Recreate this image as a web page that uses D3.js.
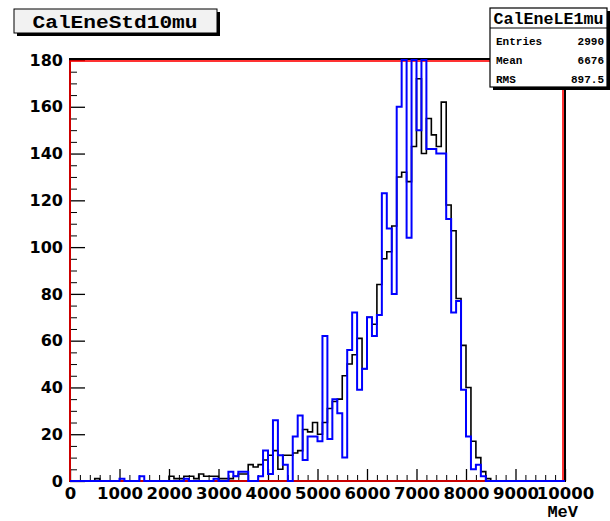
<!DOCTYPE html>
<html>
<head>
<meta charset="utf-8">
<script src="https://cdn.jsdelivr.net/npm/d3@7"></script>
<style>
  body { margin: 0; background: #fff; }
  svg { display: block; }
</style>
</head>
<body>
<div id="chart"></div>
<script>
// histogram contents, 100 bins of 100 MeV from 0 to 10000
var binLow = [
     0,  100,  200,  300,  400,  500,  600,  700,  800,  900,
  1000, 1100, 1200, 1300, 1400, 1500, 1600, 1700, 1800, 1900,
  2000, 2100, 2200, 2300, 2400, 2500, 2600, 2700, 2800, 2900,
  3000, 3100, 3200, 3300, 3400, 3500, 3600, 3700, 3800, 3900,
  4000, 4100, 4200, 4300, 4400, 4500, 4600, 4700, 4800, 4900,
  5000, 5100, 5200, 5300, 5400, 5500, 5600, 5700, 5800, 5900,
  6000, 6100, 6200, 6300, 6400, 6500, 6600, 6700, 6800, 6900,
  7000, 7100, 7200, 7300, 7400, 7500, 7600, 7700, 7800, 7900,
  8000, 8100, 8200, 8300, 8400, 8500, 8600, 8700, 8800, 8900,
  9000, 9100, 9200, 9300, 9400, 9500, 9600, 9700, 9800, 9900
];
var binWidth = 100;

// black histogram
var countsStd = [
   0,  0,  0,  0,  0,  1,  0,  0,  0,  0,
   0,  0,  0,  0,  0,  0,  0,  0,  0,  0,
   2,  1,  1,  2,  2,  1,  3,  2,  2,  2,
   1,  1,  1,  2,  3,  3,  7,  6,  7,  9,
  11, 13,  5, 11, 11, 12, 13, 22, 21, 25,
  20, 25, 31, 34, 35, 45, 50, 54, 61, 48,
  70, 67, 84, 95, 98,109,130,132,128,143,
 172,140,155,148,143,162,118,107, 78, 58,
  40, 17, 10,  4,  1,  0,  0,  0,  0,  0,
   0,  0,  0,  0,  0,  0,  0,  0,  0,  0
];

// blue histogram (CalEneLE1mu)
var countsLE = [
   0,  0,  0,  0,  0,  0,  0,  0,  0,  0,
   1,  0,  0,  0,  2,  0,  0,  0,  0,  0,
   0,  0,  0,  1,  0,  0,  0,  0,  0,  1,
   0,  0,  4,  2,  4,  4,  0,  0,  2, 13,
   3, 26, 11,  7,  0, 19, 28,  9, 19, 19,
  17, 62, 18, 35, 29, 10, 56, 72, 39, 48,
  70, 62, 71,123,108, 80,160,195,104,190,
 150,192,142,142,140,140,112, 72, 77, 39,
  19,  5,  7,  2,  0,  0,  0,  0,  0,  0,
   0,  0,  0,  0,  0,  0,  0,  0,  0,  0
];

var xMajor = [0, 1000, 2000, 3000, 4000, 5000, 6000, 7000, 8000, 9000, 10000];
var yMajor = [0, 20, 40, 60, 80, 100, 120, 140, 160, 180];

var statsLabels = ["Entries", "Mean", "RMS"];
var statsValues = ["2990", "6676", "897.5"];

var svgWidth = 610, svgHeight = 521;
var frame = { left: 70, right: 565, top: 60, bottom: 481 };

var svg = d3.select("#chart").append("svg")
    .attr("width", svgWidth)
    .attr("height", svgHeight);

var x = d3.scaleLinear().domain([0, 10000]).range([frame.left, frame.right]);
var y = d3.scaleLinear().domain([0, 180]).range([frame.bottom, frame.top]).clamp(true);

// minor ticks
var xMinor = d3.range(0, 10001, 200).filter(function(v) { return v % 1000 !== 0; });
var yMinor = d3.range(0, 181, 5).filter(function(v) { return v % 20 !== 0; });

var axisFont = "DejaVu Sans, sans-serif";

// x axis
svg.append("g")
    .attr("transform", "translate(0," + frame.bottom + ")")
    .call(d3.axisBottom(x).tickValues(xMinor).tickSize(-6).tickFormat(""))
    .call(function(g) { g.select(".domain").remove(); });

var xAx = svg.append("g")
    .attr("transform", "translate(0," + frame.bottom + ")")
    .call(d3.axisBottom(x).tickValues(xMajor).tickSize(-12).tickPadding(6).tickFormat(d3.format("d")));
xAx.select(".domain").remove();
xAx.selectAll("text")
    .attr("font-family", axisFont).attr("font-weight", "bold").attr("font-size", "16.5px").attr("fill", "#000");
xAx.selectAll("line").attr("stroke-width", 1.3);

// y axis
svg.append("g")
    .attr("transform", "translate(" + frame.left + ",0)")
    .call(d3.axisLeft(y).tickValues(yMinor).tickSize(-7).tickFormat(""))
    .call(function(g) { g.select(".domain").remove(); });

var yAx = svg.append("g")
    .attr("transform", "translate(" + frame.left + ",0)")
    .call(d3.axisLeft(y).tickValues(yMajor).tickSize(-15).tickPadding(7).tickFormat(d3.format("d")));
yAx.select(".domain").remove();
yAx.selectAll("text")
    .attr("font-family", axisFont).attr("font-weight", "bold").attr("font-size", "16px").attr("fill", "#000");
yAx.selectAll("line").attr("stroke-width", 1.3);

// axis title
svg.append("text")
    .attr("x", 578).attr("y", 517)
    .attr("text-anchor", "end")
    .attr("font-family", "Liberation Mono, monospace")
    .attr("font-weight", "bold")
    .attr("font-size", "17px")
    .text("MeV");

// step outline of a histogram
function histPoints(counts) {
    var pts = [[binLow[0], 0]];
    counts.forEach(function(c, i) {
        pts.push([binLow[i], c]);
        pts.push([binLow[i] + binWidth, c]);
    });
    pts.push([binLow[binLow.length - 1] + binWidth, 0]);
    return pts;
}

var line = d3.line()
    .x(function(d) { return x(d[0]); })
    .y(function(d) { return y(d[1]); });

svg.append("path")
    .attr("d", line(histPoints(countsStd)))
    .attr("fill", "none")
    .attr("stroke", "#000")
    .attr("stroke-width", 1.6);

// frame
svg.append("rect")
    .attr("x", frame.left).attr("y", frame.top - 1)
    .attr("width", frame.right - frame.left).attr("height", frame.bottom - frame.top + 1)
    .attr("fill", "none").attr("stroke", "#000").attr("stroke-width", 2);

// red outline
svg.append("rect")
    .attr("x", frame.left).attr("y", frame.top + 1)
    .attr("width", frame.right - frame.left - 2).attr("height", frame.bottom - frame.top - 1)
    .attr("fill", "none").attr("stroke", "#ff0000").attr("stroke-width", 1.6);

svg.append("path")
    .attr("d", line(histPoints(countsLE)))
    .attr("fill", "none")
    .attr("stroke", "#0000ff")
    .attr("stroke-width", 2);

// title box
svg.append("rect").attr("x", 17).attr("y", 12).attr("width", 203).attr("height", 24).attr("fill", "#000");
svg.append("rect").attr("x", 14).attr("y", 9).attr("width", 203).attr("height", 24)
    .attr("fill", "#f2f2f2").attr("stroke", "#000").attr("stroke-width", 1);
svg.append("text")
    .attr("x", 115).attr("y", 28)
    .attr("text-anchor", "middle")
    .attr("font-family", "Liberation Mono, monospace")
    .attr("font-weight", "bold")
    .attr("font-size", "19px")
    .attr("textLength", 165).attr("lengthAdjust", "spacingAndGlyphs")
    .text("CalEneStd10mu");

// stats box
var sb = { x: 490, y: 8, w: 117, h: 79 };
svg.append("rect").attr("x", sb.x + 3).attr("y", sb.y + 3).attr("width", sb.w).attr("height", sb.h).attr("fill", "#000");
svg.append("rect").attr("x", sb.x).attr("y", sb.y).attr("width", sb.w).attr("height", sb.h)
    .attr("fill", "#fff").attr("stroke", "#000").attr("stroke-width", 1.2);
svg.append("line").attr("x1", sb.x).attr("x2", sb.x + sb.w).attr("y1", 28).attr("y2", 28)
    .attr("stroke", "#000").attr("stroke-width", 1);
svg.append("text")
    .attr("x", sb.x + sb.w / 2).attr("y", 24)
    .attr("text-anchor", "middle")
    .attr("font-family", "Liberation Mono, monospace")
    .attr("font-weight", "bold")
    .attr("font-size", "16px")
    .attr("textLength", 110).attr("lengthAdjust", "spacingAndGlyphs")
    .text("CalEneLE1mu");

var rowY = [45, 64, 83];
statsLabels.forEach(function(lab, i) {
    svg.append("text")
        .attr("x", sb.x + 6).attr("y", rowY[i])
        .attr("font-family", "Liberation Mono, monospace")
        .attr("font-weight", "bold")
        .attr("font-size", "11px")
        .text(lab);
    svg.append("text")
        .attr("x", sb.x + sb.w - 3).attr("y", rowY[i])
        .attr("text-anchor", "end")
        .attr("font-family", "Liberation Mono, monospace")
        .attr("font-weight", "bold")
        .attr("font-size", "11px")
        .text(statsValues[i]);
});
</script>
</body>
</html>
